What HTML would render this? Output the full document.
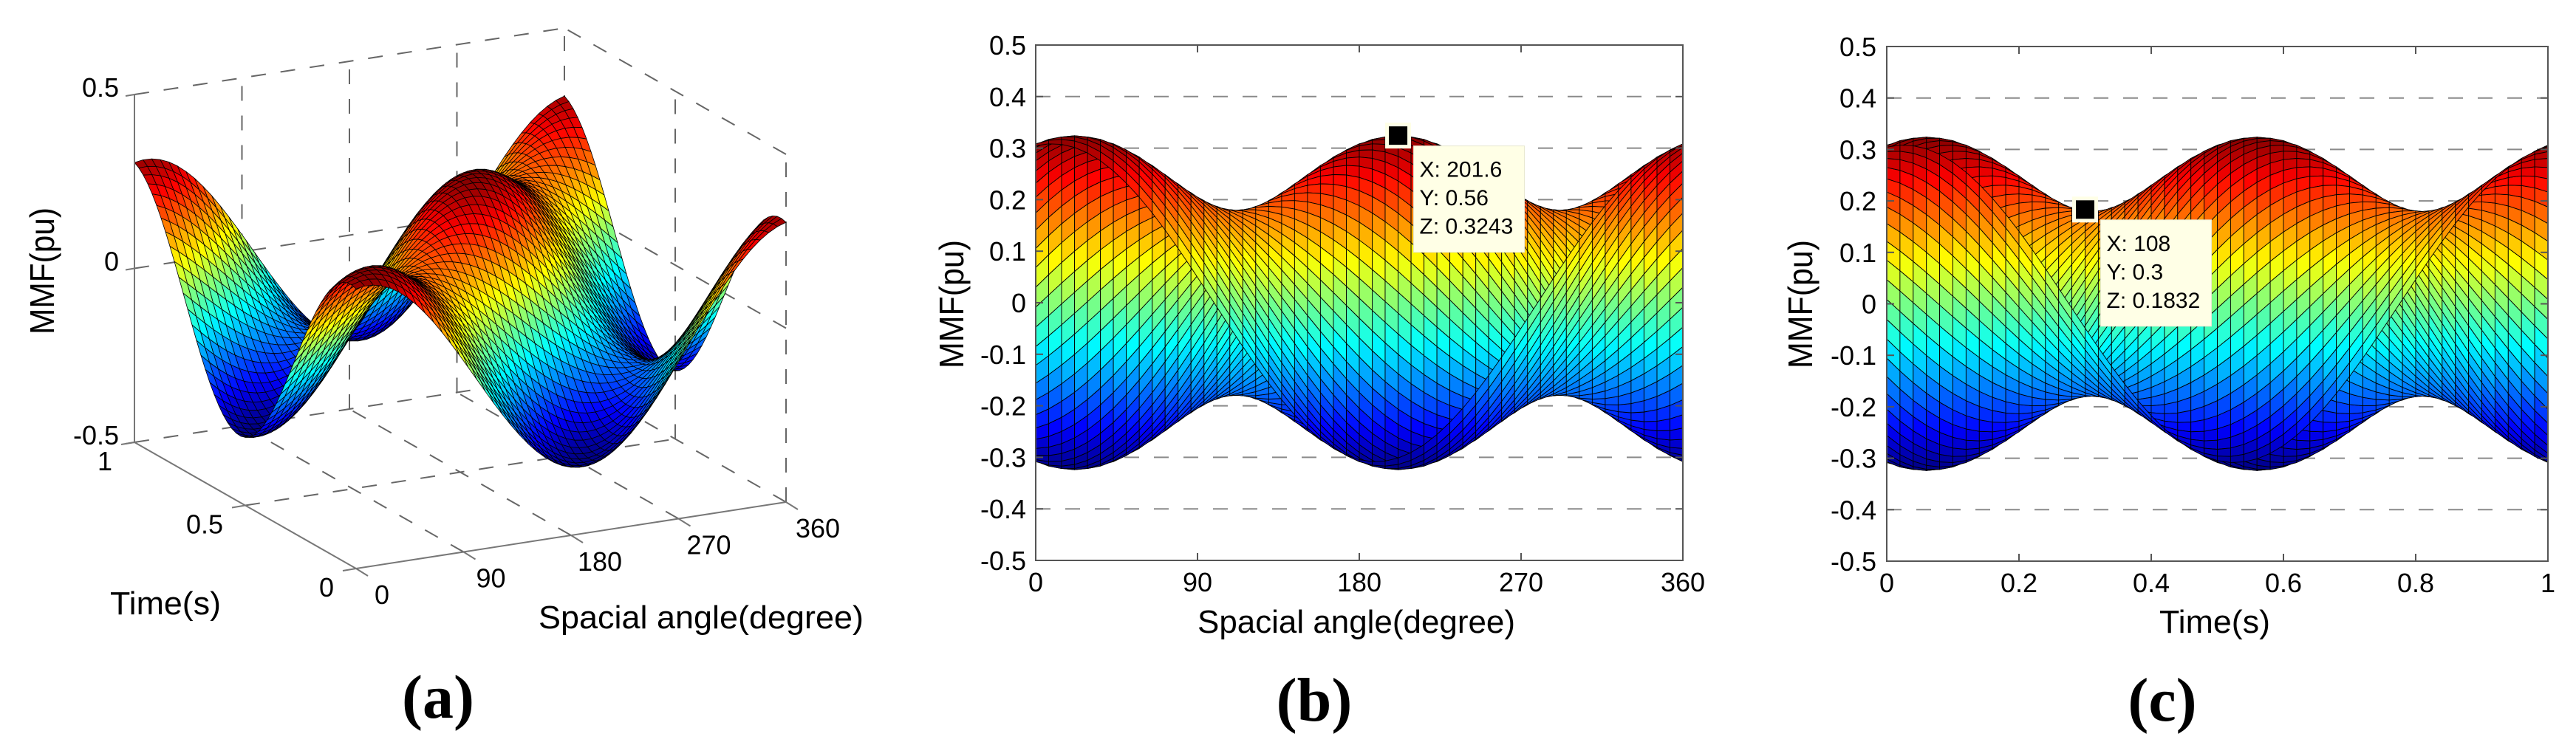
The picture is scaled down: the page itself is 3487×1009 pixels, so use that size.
<!DOCTYPE html>
<html><head><meta charset="utf-8"><title>MMF surface and projections</title>
<style>
html,body{margin:0;padding:0;background:#fff;}
svg{display:block;}
text{font-family:"Liberation Sans",Arial,sans-serif;fill:#000;}
.cap{font-family:"Liberation Serif","Times New Roman",serif;font-weight:bold;}
</style></head>
<body>
<svg id="fig" xmlns="http://www.w3.org/2000/svg" width="3487" height="1009" viewBox="0 0 3487 1009">
<rect x="0" y="0" width="3487" height="1009" fill="#fff"/>
<g id="panelA"></g>
<g id="panelB"></g>
<g id="panelC"></g>

<!-- Panel a static text -->
<text x="57" y="367" font-size="46" text-anchor="middle" textLength="172" lengthAdjust="spacingAndGlyphs" transform="rotate(-90 57 367)" dy="16">MMF(pu)</text>
<text x="224" y="832" font-size="44" text-anchor="middle" textLength="150" lengthAdjust="spacingAndGlyphs">Time(s)</text>
<text x="949" y="851" font-size="44" text-anchor="middle" textLength="440" lengthAdjust="spacingAndGlyphs">Spacial angle(degree)</text>
<text x="593" y="972" font-size="84" class="cap" text-anchor="middle">(a)</text>

<!-- Panel b static text -->
<text x="1288" y="412" font-size="46" text-anchor="middle" textLength="174" lengthAdjust="spacingAndGlyphs" transform="rotate(-90 1288 412)" dy="16">MMF(pu)</text>
<text x="1836" y="857" font-size="44" text-anchor="middle" textLength="430" lengthAdjust="spacingAndGlyphs">Spacial angle(degree)</text>
<text x="1779" y="976" font-size="84" class="cap" text-anchor="middle">(b)</text>

<!-- Panel c static text -->
<text x="2437" y="412" font-size="46" text-anchor="middle" textLength="174" lengthAdjust="spacingAndGlyphs" transform="rotate(-90 2437 412)" dy="16">MMF(pu)</text>
<text x="2998" y="857" font-size="44" text-anchor="middle" textLength="150" lengthAdjust="spacingAndGlyphs">Time(s)</text>
<text x="2927" y="976" font-size="84" class="cap" text-anchor="middle">(c)</text>
</svg>

<script>
// ---- data ----
const waveAmplitudes = [0.252, 0.072];     // pu, forward and backward rotating components
const waveTimeSigns  = [-1, 1];            // direction of rotation
const wavePhasesDeg  = [0, -43.2];         // phase offsets (deg)
const angleStepDeg = 7.2;                  // grid spacing (51 points over 0..360)
const timeStepS = 0.02;                    // grid spacing (51 points over 0..1)
const angleTicks = [0, 90, 180, 270, 360];
const timeTicksC = [0, 0.2, 0.4, 0.6, 0.8, 1];
const timeTickLabelsC = ["0", "0.2", "0.4", "0.6", "0.8", "1"];
const mmfTicks = [0.5, 0.4, 0.3, 0.2, 0.1, 0, -0.1, -0.2, -0.3, -0.4, -0.5];
const mmfTickLabels = ["0.5", "0.4", "0.3", "0.2", "0.1", "0", "-0.1", "-0.2", "-0.3", "-0.4", "-0.5"];
const zTicks3d = [0.5, 0, -0.5];
const zTickLabels3d = ["0.5", "0", "-0.5"];
const timeTicks3d = [1, 0.5, 0];
const timeTickLabels3d = ["1", "0.5", "0"];
const tipB = [201.6, 0.56, 0.3243];
const tipC = [108, 0.3, 0.1832];

const NS = "http://www.w3.org/2000/svg";
function mk(tag, attrs, parent) {
  const e = document.createElementNS(NS, tag);
  for (const k in attrs) e.setAttribute(k, attrs[k]);
  parent.appendChild(e);
  return e;
}
function mmf(th, t) {
  let s = 0;
  for (let k = 0; k < waveAmplitudes.length; k++) {
    s += waveAmplitudes[k] * Math.cos((th + waveTimeSigns[k] * 360 * t + wavePhasesDeg[k]) * Math.PI / 180);
  }
  return s;
}
const nA = Math.round(360 / angleStepDeg) + 1;
const nT = Math.round(1 / timeStepS) + 1;
const TH = [], TM = [], Z = [];
for (let i = 0; i < nA; i++) TH.push(i * angleStepDeg);
for (let j = 0; j < nT; j++) TM.push(j * timeStepS);
let zmin = Infinity, zmax = -Infinity;
for (let i = 0; i < nA; i++) { Z.push([]); for (let j = 0; j < nT; j++) { const v = mmf(TH[i], TM[j]); Z[i].push(v); zmin = Math.min(zmin, v); zmax = Math.max(zmax, v); } }
function cl(v) { return Math.max(0, Math.min(1, v)); }
function jet(v) {
  const x = cl((v - zmin) / (zmax - zmin));
  const r = cl(1.5 - Math.abs(4 * x - 3)), g = cl(1.5 - Math.abs(4 * x - 2)), b = cl(1.5 - Math.abs(4 * x - 1));
  return "rgb(" + Math.round(r * 255) + "," + Math.round(g * 255) + "," + Math.round(b * 255) + ")";
}
function faceVal(i, j) { return (Z[i][j] + Z[i + 1][j] + Z[i][j + 1] + Z[i + 1][j + 1]) / 4; }

// ---------- Panel B & C (2D projections) ----------
function panel2D(gid, L, R, T, B, xOf, xTicks, xLabels, yLabelX, order, tip, pfx) {
  const g = document.getElementById(gid);
  const yOf = z => T + (0.5 - z) * (B - T);
  // gridlines
  for (let k = 1; k < mmfTicks.length - 1; k++) {
    const y = yOf(mmfTicks[k]);
    const ln = mk("line", { x1: L, x2: R, y1: y, y2: y, stroke: "#8a8a8a", "stroke-width": 2, "stroke-dasharray": "20 20" }, g);
    
    
  }
  // surface
  const sg = mk("g", { stroke: "#000", "stroke-width": 0.9, "stroke-linejoin": "round" }, g);
  
  
  for (const [i, j] of order) {
    const pts = [[i, j], [i + 1, j], [i + 1, j + 1], [i, j + 1]].map(([a, b]) => xOf(TH[a], TM[b]).toFixed(1) + "," + yOf(Z[a][b]).toFixed(1)).join(" ");
    const p = mk("polygon", { points: pts, fill: jet(faceVal(i, j)) }, sg);
    
    
  }
  // axes box
  const bx = mk("rect", { x: L, y: T, width: R - L, height: B - T, fill: "none", stroke: "#555", "stroke-width": 2 }, g);
  
  
  for (let k = 0; k < xTicks.length; k++) {
    const x = L + (xTicks[k] - xTicks[0]) / (xTicks[xTicks.length - 1] - xTicks[0]) * (R - L);
    mk("line", { x1: x, x2: x, y1: B, y2: B - 10, stroke: "#555", "stroke-width": 2 }, g);
    mk("line", { x1: x, x2: x, y1: T, y2: T + 10, stroke: "#555", "stroke-width": 2 }, g);
    const tx = mk("text", { x: x, y: B + 42, "font-size": 36, "text-anchor": "middle" }, g);
    tx.textContent = xLabels[k];
    
    
  }
  for (let k = 0; k < mmfTicks.length; k++) {
    const y = yOf(mmfTicks[k]);
    mk("line", { x1: L, x2: L + 10, y1: y, y2: y, stroke: "#555", "stroke-width": 2 }, g);
    mk("line", { x1: R, x2: R - 10, y1: y, y2: y, stroke: "#555", "stroke-width": 2 }, g);
    const ty = mk("text", { x: yLabelX, y: y + 13, "font-size": 36, "text-anchor": "end" }, g);
    ty.textContent = mmfTickLabels[k];
    
    
  }
  // datatip
  const mx = xOf(tip[0], tip[1]), my = yOf(tip[2]);
  const tg = mk("g", {}, g);
  
  
  mk("rect", { x: mx + 21, y: my + 14, width: 150, height: 144, fill: "#ffffe6", stroke: "#e8e8d0", "stroke-width": 1 }, tg);
  mk("rect", { x: mx - 15, y: my - 15, width: 30, height: 30, fill: "#000", stroke: "#ffffe6", "stroke-width": 5 }, tg);
  const lines = ["X: " + tip[0], "Y: " + tip[1], "Z: " + tip[2]];
  for (let k = 0; k < 3; k++) {
    const t = mk("text", { x: mx + 29, y: my + 56 + k * 38.5, "font-size": 30 }, tg);
    t.textContent = lines[k];
    
    
  }
}
// B: looking along time (far t=1 first)
const orderB = [];
for (let j = nT - 2; j >= 0; j--) for (let i = 0; i < nA - 1; i++) orderB.push([i, j]);
panel2D("panelB", 1402, 2278, 61, 759, (th, t) => 1402 + th / 360 * 876, angleTicks, angleTicks.map(String), 1389, orderB, tipB, "panel-b");
// C: looking along angle (far θ=0 first)
const orderC = [];
for (let i = 0; i < nA - 1; i++) for (let j = 0; j < nT - 1; j++) orderC.push([i, j]);
panel2D("panelC", 2554, 3449, 63, 760, (th, t) => 2554 + t * 895, timeTicksC, timeTickLabelsC, 2540, orderC, tipC, "panel-c");

// ---------- Panel A (3D) ----------
(function () {
  const g = document.getElementById("panelA");
  const O = [482, 770], AV = [582, -90], TV = [-300, -171], ZH = 471;
  const P = (th, t, z) => [O[0] + th / 360 * AV[0] + t * TV[0], O[1] + th / 360 * AV[1] + t * TV[1] - (z + 0.5) * ZH];
  function dl(a, b, name, dashed, col) {
    const l = mk("line", { x1: a[0], y1: a[1], x2: b[0], y2: b[1], stroke: col || "#666", "stroke-width": 2 }, g);
    if (dashed) l.setAttribute("stroke-dasharray", "20 20");
    
    
  }
  // back wall t=1
  for (const th of angleTicks) dl(P(th, 1, -0.5), P(th, 1, 0.5), "panel-a-back-wall-gridline", th !== 0);
  for (const z of [0, 0.5]) dl(P(0, 1, z), P(360, 1, z), "panel-a-back-wall-gridline", true);
  dl(P(0, 1, -0.5), P(360, 1, -0.5), "panel-a-floor-edge", true);
  // right wall θ=360
  for (const t of [0, 0.5]) dl(P(360, t, -0.5), P(360, t, 0.5), "panel-a-side-wall-gridline", true);
  for (const z of [-0.5, 0, 0.5]) dl(P(360, 0, z), P(360, 1, z), "panel-a-side-wall-gridline", true);
  // floor
  for (const th of [90, 180, 270]) dl(P(th, 0, -0.5), P(th, 1, -0.5), "panel-a-floor-gridline", true);
  dl(P(0, 0.5, -0.5), P(360, 0.5, -0.5), "panel-a-floor-gridline", true);
  // surface
  const faces = [];
  for (let i = 0; i < nA - 1; i++) for (let j = 0; j < nT - 1; j++) {
    const thm = (TH[i] + TH[i + 1]) / 2, tm = (TM[j] + TM[j + 1]) / 2;
    faces.push([i, j, thm / 360 * 90 + tm * 171]);
  }
  faces.sort((a, b) => b[2] - a[2]);
  const sg = mk("g", { stroke: "#000", "stroke-width": 0.8, "stroke-linejoin": "round" }, g);
  
  
  for (const [i, j] of faces) {
    const pts = [[i, j], [i + 1, j], [i + 1, j + 1], [i, j + 1]].map(([a, b]) => { const p = P(TH[a], TM[b], Z[a][b]); return p[0].toFixed(1) + "," + p[1].toFixed(1); }).join(" ");
    const p = mk("polygon", { points: pts, fill: jet(faceVal(i, j)) }, sg);
    
    
  }
  // solid axes
  dl(P(0, 1, -0.5), P(0, 1, 0.5), "panel-a-z-axis", false, "#777");
  dl(P(0, 1, -0.5), P(0, 0, -0.5), "panel-a-time-axis", false, "#777");
  dl(P(0, 0, -0.5), P(360, 0, -0.5), "panel-a-angle-axis", false, "#777");
  for (let k = 0; k < zTicks3d.length; k++) {
    const p = P(0, 1, zTicks3d[k]);
    dl(p, [p[0] - 12, p[1] + 2], "panel-a-z-tick", false, "#777");
    const t = mk("text", { x: 161, y: p[1] + 3, "font-size": 36, "text-anchor": "end" }, g);
    t.textContent = zTickLabels3d[k];
    
    
  }
  for (let k = 0; k < timeTicks3d.length; k++) {
    const p = P(0, timeTicks3d[k], -0.5);
    dl(p, [p[0] - 18, p[1] + 3], "panel-a-time-tick", false, "#777");
    const t = mk("text", { x: p[0] - 30, y: p[1] + 38, "font-size": 36, "text-anchor": "end" }, g);
    t.textContent = timeTickLabels3d[k];
    
    
  }
  for (let k = 0; k < angleTicks.length; k++) {
    const p = P(angleTicks[k], 0, -0.5);
    dl(p, [p[0] + 16, p[1] + 10], "panel-a-angle-tick", false, "#777");
    const t = mk("text", { x: p[0] + 35 + k * 2, y: p[1] + 48, "font-size": 36, "text-anchor": "middle" }, g);
    t.textContent = String(angleTicks[k]);
    
    
  }
})();
</script>
</body></html>
